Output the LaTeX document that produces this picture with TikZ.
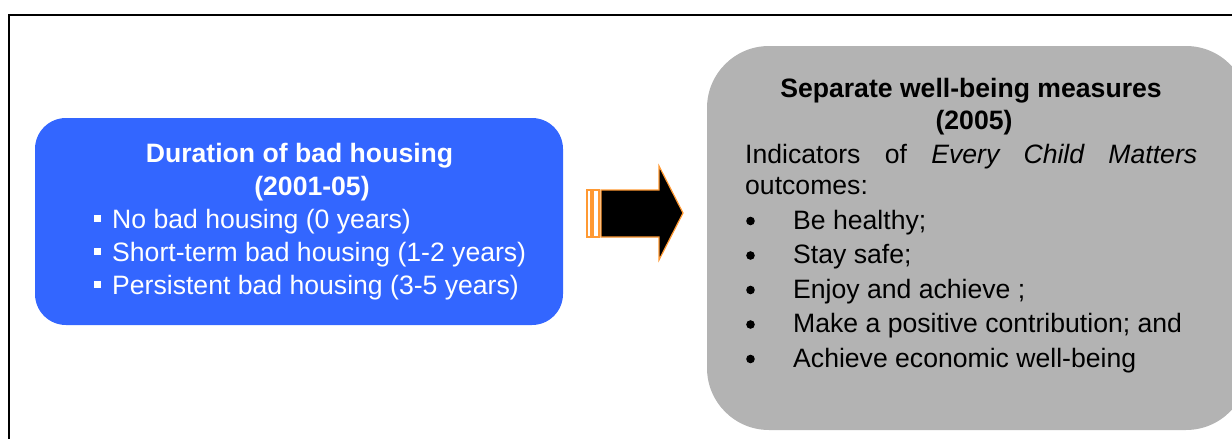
\documentclass[tikz,border=0pt]{standalone}
\usepackage{fontspec}
\setmainfont{Liberation Sans}
\definecolor{boxblue}{HTML}{3366FF}
\definecolor{boxgray}{HTML}{B3B3B3}
\definecolor{arroworange}{HTML}{FF9933}
\tikzset{
  txt/.style={inner sep=0pt, font=\fontsize{26.6}{31}\selectfont},
  ttl/.style={inner sep=0pt, font=\fontsize{26.6}{31}\selectfont\bfseries},
  wtxt/.style={txt, text=white},
  btxt/.style={txt, text=black},
  sqbullet/.style={fill=white, draw=none},
  dotbullet/.style={fill=black, draw=none},
}
\begin{document}
\begin{tikzpicture}[x=1pt,y=-1pt]
\useasboundingbox (0,0) rectangle (1232,439);
\clip (0,0) rectangle (1232,439);
% frame
\draw[line width=2pt] (9,450) -- (9,15) -- (1250,15);
% blue box
\fill[boxblue, rounded corners=31pt] (35,118) rectangle (563,325);
\node[ttl, text=white, anchor=base] (t1) at (299.5,162) {Duration of bad housing};
\node[ttl, text=white, anchor=base] (t2) at (312,195) {(2001-05)};
\foreach \y/\t [count=\i] in {228/No bad housing (0 years), 261/Short-term bad housing (1-2 years), 294/Persistent bad housing (3-5 years)} {
  \fill[sqbullet] (93.5,\y-13) rectangle (100.5,\y-6);
  \node[wtxt, anchor=base west] (b\i) at (112,\y) {\t};
}
% arrow
\draw[arroworange, line width=1.2pt, fill=white] (587,190) rectangle (591,237);
\draw[arroworange, line width=1.2pt, fill=white] (593,190) rectangle (599,237);
\draw[arroworange, line width=1.2pt, fill=black, line join=miter]
  (601,190) -- (659,190) -- (659,166) -- (683,213) -- (659,260) -- (659,237) -- (601,237) -- cycle;
% gray box
\fill[boxgray, rounded corners=62pt] (707,46) rectangle (1248,430);
\node[ttl, text=black, anchor=base] (g1) at (971,97) {Separate well-being measures};
\node[ttl, text=black, anchor=base] (g2) at (974,129) {(2005)};
\node[btxt, anchor=base west] (g3) at (745,163) {\makebox[452pt][s]{Indicators of \textit{Every Child Matters}}};
\node[btxt, anchor=base west] (g4) at (745,194) {outcomes:};
\foreach \y/\t [count=\i] in {229/Be healthy;, 263.5/Stay safe;, 298/Enjoy and achieve ;, 332.5/Make a positive contribution; and, 367/Achieve economic well-being} {
  \fill[dotbullet] (750.5,\y-8) circle (4.3);
  \node[btxt, anchor=base west] (c\i) at (793,\y) {\t};
}
\end{tikzpicture}
\end{document}
